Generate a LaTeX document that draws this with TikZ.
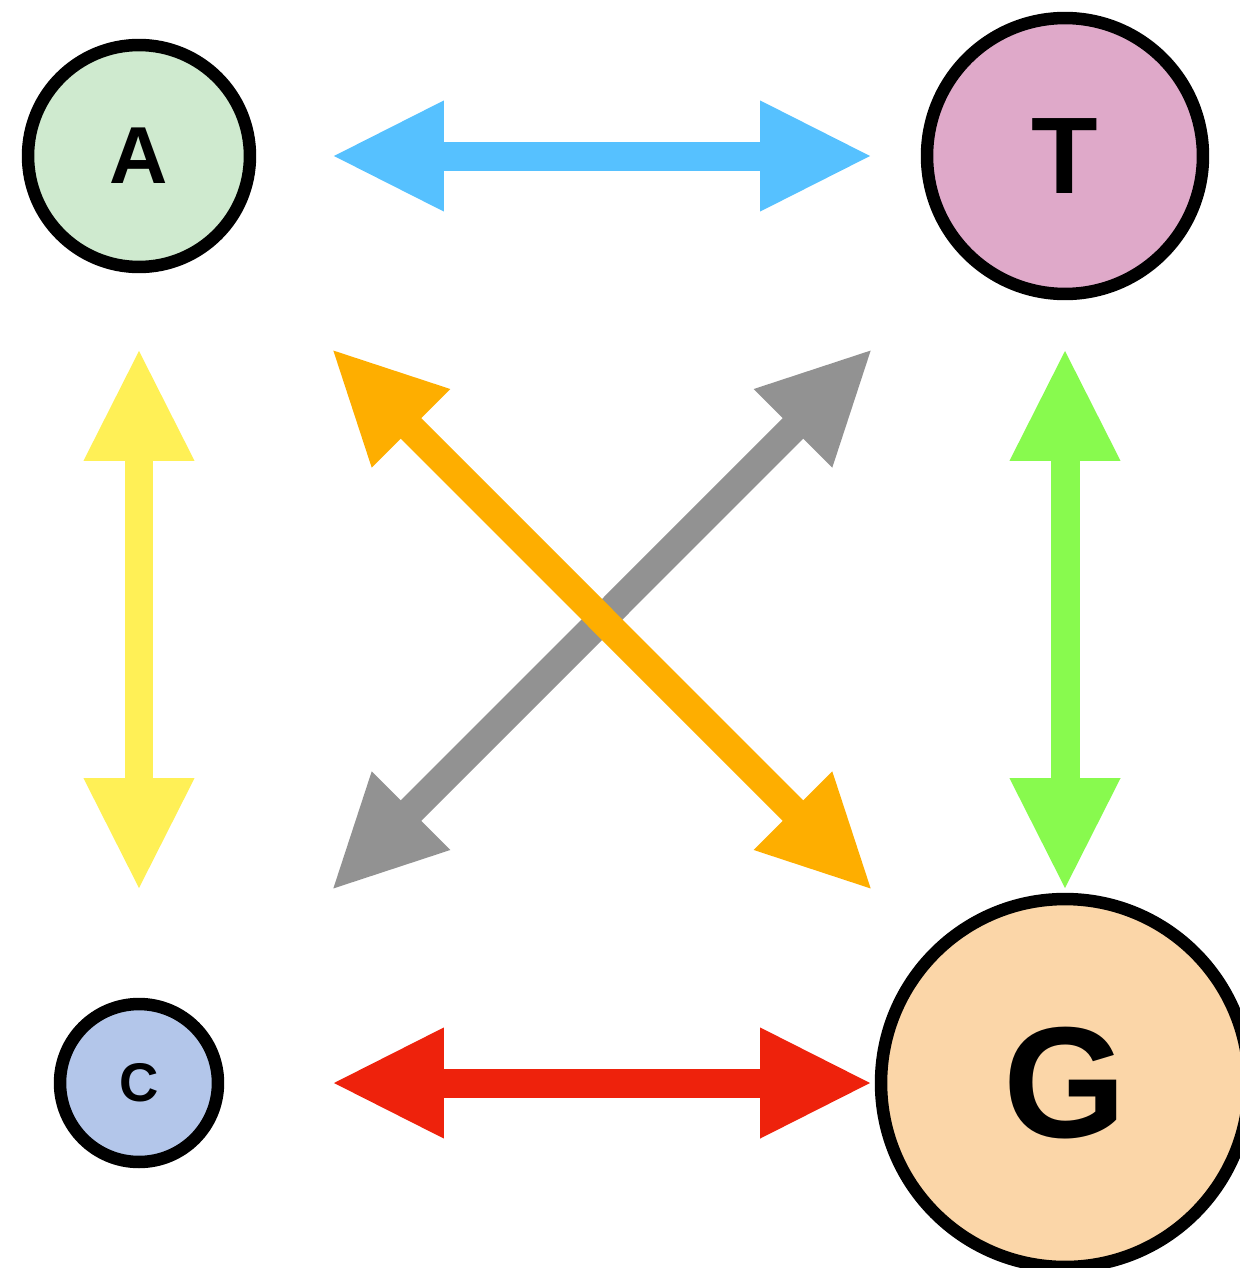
\documentclass[tikz,border=0pt]{standalone}
\usepackage{fontspec}
\setmainfont{Liberation Sans}
\usetikzlibrary{arrows.meta}

\definecolor{baseA}{HTML}{CFEACF}
\definecolor{baseT}{HTML}{DFA9C9}
\definecolor{baseC}{HTML}{B3C6EA}
\definecolor{baseG}{HTML}{FBD6A8}
\definecolor{pairblue}{HTML}{56C1FF}
\definecolor{pairred}{HTML}{EE220C}
\definecolor{pairyellow}{HTML}{FFF056}
\definecolor{pairgreen}{HTML}{88FA4E}
\definecolor{pairorange}{HTML}{FEAE00}
\definecolor{pairgray}{HTML}{929292}

\begin{document}
\begin{tikzpicture}[x=0.02cm,y=-0.02cm,
  base/.style={circle,draw=black,line width=0.25cm,inner sep=0pt},
  pair/.style={line width=0.58cm,
    {Triangle[length=2.26cm,width=2.04cm]}-{Triangle[length=2.26cm,width=2.04cm]},
    shorten <=3.84cm,shorten >=3.84cm},
  cross/.style={pair,shorten <=5.44cm,shorten >=5.44cm}]
  \clip (0,0) rectangle (1240,1268);
  % the four bases
  \node[base,fill=baseA,minimum size=4.44cm,font=\bfseries\fontsize{46}{46}\selectfont] (A) at (139,156) {A};
  \node[base,fill=baseT,minimum size=5.52cm,font=\bfseries\fontsize{62}{62}\selectfont] (T) at (1065,156) {T};
  \node[base,fill=baseC,minimum size=3.16cm,font=\bfseries\fontsize{31}{31}\selectfont] (C) at (139,1083) {C};
  \node[base,fill=baseG,minimum size=7.36cm,font=\bfseries\fontsize{90}{90}\selectfont] (G) at (1065,1083) {G};
  % pairs
  \draw[pair,pairblue] (A.center) -- (T.center);
  \draw[pair,pairred] (C.center) -- (G.center);
  \draw[pair,pairyellow] (A.center) -- (C.center);
  \draw[pair,pairgreen] (T.center) -- (G.center);
  \draw[cross,pairgray] (T.center) -- (C.center);
  \draw[cross,pairorange] (A.center) -- (G.center);
\end{tikzpicture}
\end{document}
